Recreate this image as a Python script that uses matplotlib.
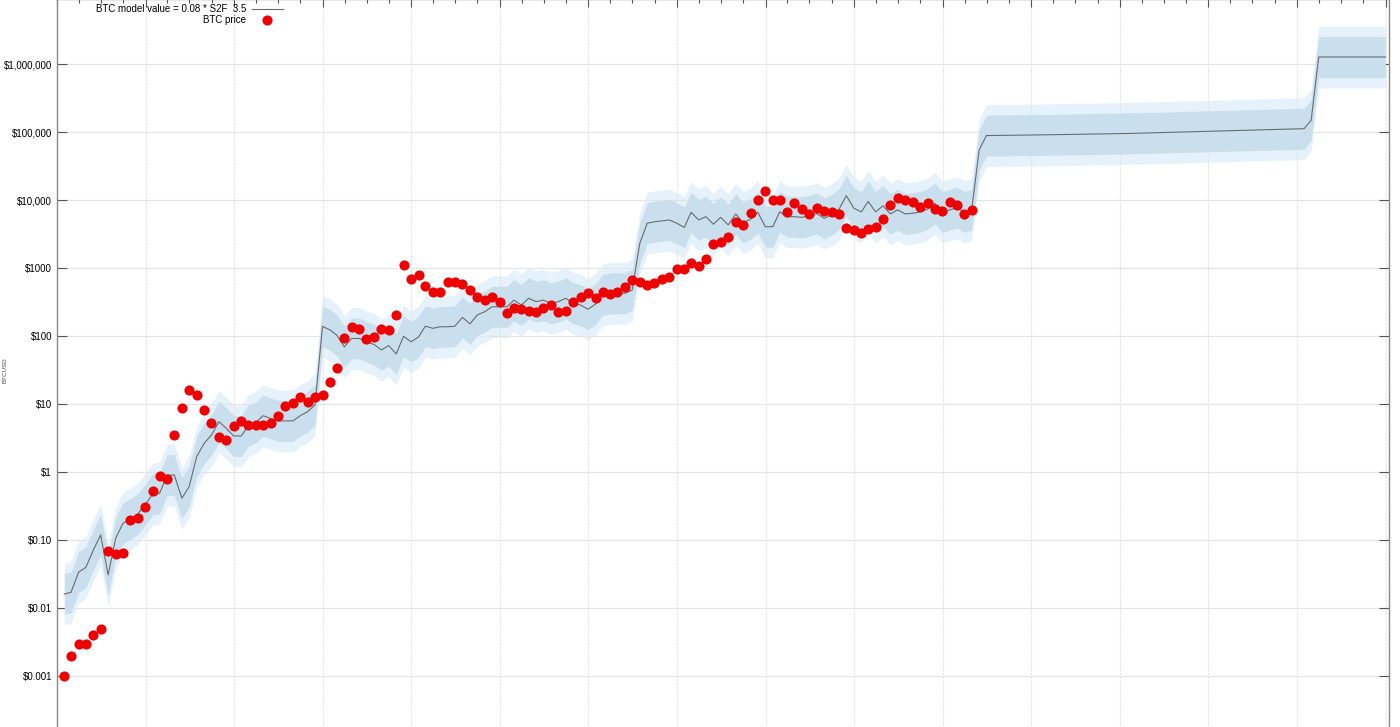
import numpy as np
import pandas as pd
import matplotlib
matplotlib.use("Agg")
import matplotlib.pyplot as plt
import matplotlib.dates as mdates
from matplotlib.ticker import FixedLocator, NullFormatter

plt.rcParams['font.family'] = ['Liberation Sans', 'DejaVu Sans']

# monthly BTC price (USD), Jan 2010 .. Apr 2020, month-end
price_dates = pd.date_range('2010-01-31', periods=124, freq='ME')
btc_price = [
    0.001, 0.002, 0.003, 0.003, 0.004, 0.005, 0.07, 0.062, 0.065, 0.2,
    0.21, 0.31, 0.53, 0.88, 0.8, 3.5, 8.8, 16.3, 13.7, 8.2,
    5.3, 3.3, 3.0, 4.8, 5.7, 5.0, 5.0, 5.0, 5.3, 6.8,
    9.5, 10.3, 12.7, 10.9, 12.7, 13.7, 21, 34, 93, 138,
    128, 90, 97, 128, 124, 206, 1120, 705, 795, 555,
    453, 453, 622, 633, 582, 480, 380, 340, 380, 324,
    218, 258, 250, 238, 230, 264, 289, 230, 238, 316,
    373, 427, 362, 445, 418, 445, 525, 670, 633, 567,
    614, 695, 755, 966, 966, 1180, 1075, 1370, 2290, 2460,
    2860, 4770, 4270, 6460, 10000, 13900, 10000, 10100, 6800, 9100,
    7360, 6300, 7640, 7000, 6650, 6300, 3970, 3640, 3330, 3730,
    4090, 5260, 8500, 10900, 10000, 9540, 8050, 9150, 7360, 7000,
    9300, 8500, 6300, 7240,
]

# S2F model value on the same months
model_hist = [
    0.0162, 0.0172, 0.034, 0.040, 0.072, 0.12, 0.031, 0.107, 0.178, 0.206,
    0.244, 0.334, 0.48, 0.49, 0.91, 0.91, 0.415, 0.615, 1.7, 2.67,
    3.54, 5.55, 4.44, 3.42, 3.42, 4.84, 5.4, 6.8, 6.2, 5.7,
    5.7, 5.7, 6.8, 7.8, 9.8, 140, 124, 104, 70, 93,
    93, 83, 76, 63, 73, 55, 100, 83, 98, 141,
    131, 138, 138, 141, 190, 152, 206, 230, 272, 272,
    272, 340, 288, 362, 324, 340, 305, 324, 362, 305,
    288, 250, 298, 405, 428, 428, 428, 480, 2300, 4600,
    4840, 4970, 5140, 4600, 3990, 6660, 5140, 5740, 4450, 5620,
    4350, 6300, 4700, 5260, 6660, 4090, 4090, 6750, 5740, 5740,
    5620, 5900, 6400, 5430, 6100, 7400, 11700, 7650, 6750, 9600,
    6750, 8300, 6300, 7240, 6300, 6460, 6750, 7400, 9000, 6750,
    7240, 7800, 6750, 7240,
]
# model projection after the 2020 halving
future_dates = pd.to_datetime(['2020-05-31', '2020-06-30', '2021-01-31', '2022-01-31',
                               '2023-01-31', '2024-01-31', '2024-02-29', '2024-03-31',
                               '2024-12-31'])
model_future = [55000, 89600, 91500, 96000, 104000, 113000, 150000, 1280000, 1280000]

ytick_vals = [0.001, 0.01, 0.1, 1, 10, 100, 1000, 10000, 100000, 1000000]
ytick_labels = ['$0.001', '$0.01', '$0.10', '$1', '$10', '$100', '$1000',
                '$10,000', '$100,000', '$1,000,000']

inner_k = 2.0
outer_k = 2.85

model_dates = price_dates.append(future_dates)
model = np.array(model_hist + model_future)

fig = plt.figure(figsize=(14, 7.27), dpi=100)
W, H = 1400, 727
left, right, top, bottom = 57, 1389, -1, 731
ax = fig.add_axes([left / W, 1 - bottom / H, (right - left) / W, (bottom - top) / H])

ax.fill_between(model_dates, model / outer_k, model * outer_k, color='#e6f2fb', lw=0, zorder=1)
ax.fill_between(model_dates, model / inner_k, model * inner_k, color='#c9dfee', lw=0, zorder=2)
ax.plot(model_dates, model, color='#6b6b6b', lw=0.8, zorder=3,
        label='BTC model value = 0.08 * S2F  3.5')
ax.plot(price_dates, btc_price, 'o', color='#ee0000', ms=7.3, mew=0, zorder=4,
        label='BTC price')

ax.set_yscale('log')
ytop = 10 ** (1 + (404.3 - top) / 68)
ybot = 10 ** (1 + (404.3 - bottom) / 68)
ax.set_ylim(ybot, ytop)
ax.set_xlim(pd.Timestamp('2010-01-01'), pd.Timestamp('2025-01-15'))

ax.yaxis.set_major_locator(FixedLocator(ytick_vals))
ax.set_yticklabels(ytick_labels)
ax.yaxis.set_minor_locator(FixedLocator([]))
ax.tick_params(axis='y', which='major', direction='in', length=7, width=0.8,
               color='#555555', labelsize=7, pad=3.5, right=True)

ax.xaxis.set_major_locator(mdates.YearLocator())
ax.xaxis.set_minor_locator(mdates.MonthLocator(bymonth=[4, 7, 10]))
ax.xaxis.set_major_formatter(NullFormatter())
ax.tick_params(axis='x', which='both', direction='in', top=True, bottom=False,
               color='#555555', width=0.8)
ax.tick_params(axis='x', which='major', length=6)
ax.tick_params(axis='x', which='minor', length=3)

ax.grid(axis='y', which='major', color='#e4e4e4', lw=0.8)
ax.grid(axis='x', which='major', color='#e4e4e4', lw=0.8, ls=(0, (2, 1)))

for s in ['left', 'right', 'top']:
    ax.spines[s].set_color('#888888')
    ax.spines[s].set_linewidth(1.0)
ax.spines['bottom'].set_visible(False)

fig.text(5 / W, 1 - 370 / H, 'BTCUSD', rotation=90, fontsize=4.5, color='#444444',
         ha='center', va='center')

ax.legend(loc='upper right', bbox_to_anchor=(283 / W, 1 - 4 / H),
          bbox_transform=fig.transFigure, markerfirst=False, frameon=False,
          fontsize=7, handlelength=3.2, handletextpad=0.6, labelspacing=0.15,
          borderpad=0, borderaxespad=0)

fig.savefig('out.png', dpi=100)
